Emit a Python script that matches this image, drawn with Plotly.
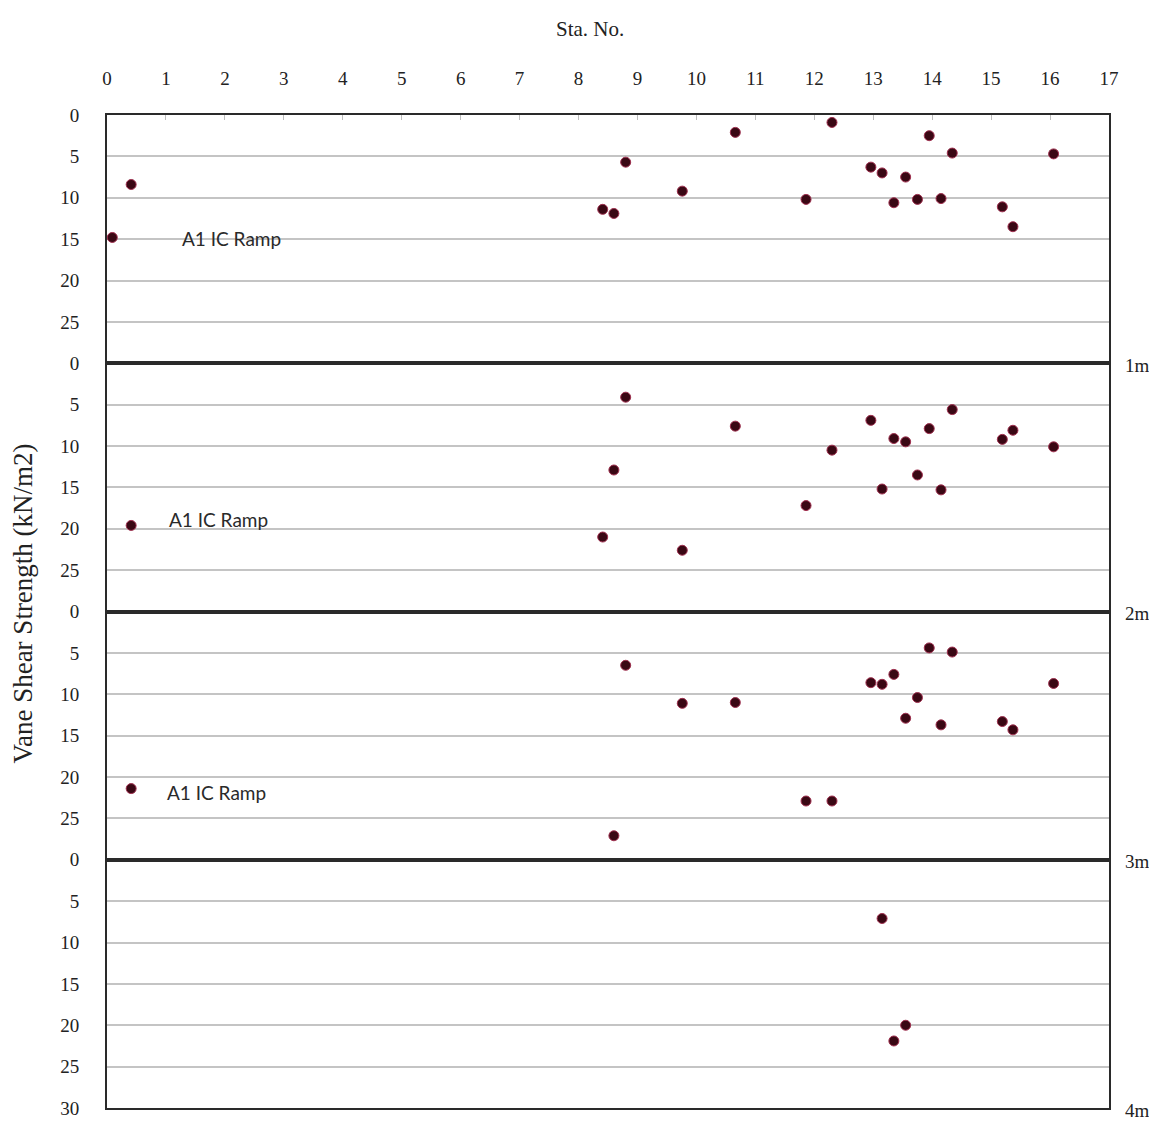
import plotly.graph_objects as go
from plotly.subplots import make_subplots

# Vane shear strength (kN/m2) by station, one panel per 1 m depth interval
sta_0_1m = [0.09, 0.41, 8.41, 8.60, 8.80, 9.76, 10.66, 11.86, 12.30, 12.96,
            13.15, 13.35, 13.55, 13.75, 13.95, 14.15, 14.34, 15.19, 15.37, 16.06]
vs_0_1m = [14.8, 8.4, 11.4, 11.9, 5.7, 9.2, 2.1, 10.2, 0.9, 6.3,
           7.0, 10.6, 7.5, 10.2, 2.5, 10.1, 4.6, 11.1, 13.5, 4.7]

sta_1_2m = [0.41, 8.41, 8.60, 8.80, 9.76, 10.66, 11.86, 12.30, 12.96, 13.15,
            13.35, 13.55, 13.75, 13.95, 14.15, 14.34, 15.19, 15.37, 16.06]
vs_1_2m = [19.6, 21.0, 12.9, 4.1, 22.6, 7.6, 17.2, 10.5, 6.9, 15.2,
           9.1, 9.5, 13.5, 7.9, 15.3, 5.6, 9.2, 8.1, 10.1]

sta_2_3m = [0.41, 8.60, 8.80, 9.76, 10.66, 11.86, 12.30, 12.96, 13.15,
            13.35, 13.55, 13.75, 13.95, 14.15, 14.34, 15.19, 15.37, 16.06]
vs_2_3m = [21.4, 27.1, 6.5, 11.1, 11.0, 22.9, 22.9, 8.6, 8.8,
           7.6, 12.9, 10.4, 4.4, 13.7, 4.9, 13.3, 14.3, 8.7]

sta_3_4m = [13.15, 13.35, 13.55]
vs_3_4m = [7.1, 21.9, 20.0]

depth_labels = ["1m", "2m", "3m", "4m"]
site_label = "A1 IC Ramp"
x_ticks = list(range(0, 18))

panels = [(sta_0_1m, vs_0_1m), (sta_1_2m, vs_1_2m),
          (sta_2_3m, vs_2_3m), (sta_3_4m, vs_3_4m)]

fig = make_subplots(rows=4, cols=1, shared_xaxes=True, vertical_spacing=0)

for i, (sx, sy) in enumerate(panels, start=1):
    fig.add_trace(go.Scatter(
        x=sx, y=sy, mode="markers", showlegend=False,
        marker=dict(size=10, color="#3a0814",
                    line=dict(color="#a0304f", width=1)),
    ), row=i, col=1)

serif = "Liberation Serif"
axis_line = dict(showline=True, mirror=True, linecolor="#2a2a2a", linewidth=2)
tick_font = dict(family=serif, size=19, color="#222222")

for i in range(1, 5):
    xa = "xaxis" if i == 1 else f"xaxis{i}"
    ya = "yaxis" if i == 1 else f"yaxis{i}"
    fig.layout[xa].update(range=[0, 17], showgrid=False, zeroline=False,
                          **axis_line)
    last = i == 4
    fig.layout[ya].update(
        range=[30, 0], zeroline=False,
        tickvals=[0, 5, 10, 15, 20, 25, 30] if last else [0, 5, 10, 15, 20, 25],
        showgrid=True, gridcolor="#c4c4c4", gridwidth=2,
        ticks="", ticklabelstandoff=22, tickfont=tick_font,
        **axis_line)

# Station axis along the top of the first panel only
fig.layout.xaxis.update(side="top", tickvals=x_ticks, ticks="inside",
                        ticklen=5, tickcolor="#bdbdbd", ticklabelstandoff=20,
                        tickfont=tick_font, showticklabels=True)
for i in range(2, 5):
    fig.layout[f"xaxis{i}"].update(showticklabels=False, ticks="")

# Site name inside the first three panels
for row, (lx, ly) in zip([1, 2, 3], [(1.24, 14.9), (1.02, 18.9), (0.99, 21.9)]):
    fig.add_annotation(x=lx, y=ly, text=site_label, showarrow=False,
                       xanchor="left", yanchor="middle",
                       font=dict(family="Lato", size=19, color="#2a2a2a"),
                       row=row, col=1)

# Depth markers at the bottom of each panel, right of the plot
for i, lab in enumerate(depth_labels, start=1):
    yref = "y" if i == 1 else f"y{i}"
    fig.add_annotation(x=1.014, xref="paper", y=30, yref=yref, text=lab,
                       showarrow=False, xanchor="left", yanchor="middle",
                       yshift=-2,
                       font=dict(family=serif, size=19, color="#222222"))

fig.add_annotation(x=0.482, y=1.0868, xref="paper", yref="paper",
                   text="Sta. No.", showarrow=False,
                   xanchor="center", yanchor="middle",
                   font=dict(family=serif, size=21, color="#222222"))

fig.add_annotation(x=-0.0838, y=0.508, xref="paper", yref="paper",
                   text="Vane Shear Strength (kN/m2)", showarrow=False,
                   textangle=-90, xanchor="center", yanchor="middle",
                   font=dict(family=serif, size=27, color="#222222"))

fig.update_layout(width=1149, height=1131,
                  font=dict(family=serif),
                  margin=dict(l=107, r=40, t=115, b=14),
                  paper_bgcolor="white", plot_bgcolor="white")

fig.write_html("out.html")
